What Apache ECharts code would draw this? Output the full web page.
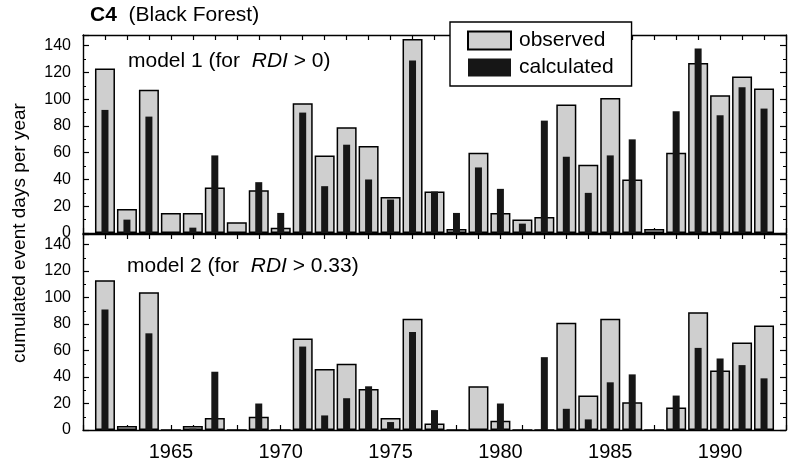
<!DOCTYPE html>
<html>
<head>
<meta charset="utf-8">
<script src="https://cdn.jsdelivr.net/npm/echarts@6/dist/echarts.min.js"></script>
<style>
    html, body { margin: 0; padding: 0; background: #fff; }
    #chart { width: 790px; height: 464px; }
</style>
</head>
<body>
<div id="chart"></div>
<script>
const years = [1962, 1963, 1964, 1965, 1966, 1967, 1968, 1969, 1970, 1971, 1972, 1973, 1974, 1975, 1976, 1977,
    1978, 1979, 1980, 1981, 1982, 1983, 1984, 1985, 1986, 1987, 1988, 1989, 1990, 1991, 1992];

// model 1 (RDI > 0)
const observed1 = [123, 18, 107, 15, 15, 34, 8, 32, 4, 97, 58, 79, 65, 27, 145, 31,
    3, 60, 15, 10, 12, 96, 51, 101, 40, 3, 60, 127, 103, 117, 108];
const calculated1 = [92, 10, 87, 0, 4, 58, 0, 38, 15, 90, 35, 66, 40, 25, 129, 31,
    15, 49, 33, 7, 84, 57, 30, 58, 70, 0, 91, 138, 88, 109, 93];

// model 2 (RDI > 0.33)
const observed2 = [113, 3, 104, 0, 3, 9, 0, 10, 0, 69, 46, 50, 31, 9, 84, 5,
    0, 33, 7, 0, 0, 81, 26, 84, 21, 0, 17, 89, 45, 66, 79];
const calculated2 = [91, 0, 73, 0, 1, 44, 0, 20, 0, 63, 11, 24, 33, 6, 74, 15,
    0, 0, 20, 0, 55, 16, 8, 36, 42, 0, 26, 62, 54, 49, 39];

const yTicks = [0, 20, 40, 60, 80, 100, 120, 140];

const font = 'Liberation Sans, Arial, sans-serif';
const chart = echarts.init(document.getElementById('chart'));

const pairs = (vals) => years.map((y, i) => [y, vals[i]]);

function xAxisOf(gridIndex, position, withLabels) {
    return {
        type: 'value', gridIndex, position,
        min: 1961, max: 1993, interval: 1,
        axisLine: { show: true, onZero: false, lineStyle: { color: '#000', width: 1.4 } },
        axisTick: { show: true, inside: true, length: 5, lineStyle: { color: '#000', width: 1.2 } },
        splitLine: { show: false },
        axisLabel: {
            show: withLabels, margin: 12, fontSize: 20, color: '#000', fontFamily: font,
            formatter: (v) => (v % 5 === 0 ? String(v) : '')
        }
    };
}

function yAxisOf(gridIndex, position, withLabels) {
    return {
        type: 'value', gridIndex, position,
        min: 0, max: 148, interval: 20,
        axisLine: { show: true, onZero: false, lineStyle: { color: '#000', width: 1.4 } },
        axisTick: { show: true, inside: true, length: 6, lineStyle: { color: '#000', width: 1.2 } },
        minorTick: { show: true, splitNumber: 2, length: 3, lineStyle: { color: '#000', width: 1 } },
        splitLine: { show: false },
        axisLabel: {
            show: withLabels, margin: 12, fontSize: 16, color: '#000', fontFamily: font,
            hideOverlap: false,
            formatter: (v) => (yTicks.indexOf(v) >= 0 ? String(v) : '')
        }
    };
}

const obsStyle = { color: '#cfcfcf', borderColor: '#000', borderWidth: 1.5 };
const calcStyle = { color: '#161616' };

const options = {
    animation: false,
    backgroundColor: '#fff',
    grid: [
        { left: 83, right: 4, top: 35, height: 198 },
        { left: 83, right: 4, top: 234, height: 196 }
    ],
    xAxis: [
        xAxisOf(0, 'bottom', false),
        xAxisOf(0, 'top', false),
        xAxisOf(1, 'bottom', true),
        xAxisOf(1, 'top', false)
    ],
    yAxis: [
        yAxisOf(0, 'left', true),
        yAxisOf(0, 'right', false),
        yAxisOf(1, 'left', true),
        yAxisOf(1, 'right', false)
    ],
    legend: {
        orient: 'vertical',
        left: 450, top: 22,
        icon: 'rect',
        data: ['observed', 'calculated'],
        backgroundColor: '#fff',
        borderColor: '#000', borderWidth: 1.4, borderRadius: 0,
        padding: [8, 18, 8, 17],
        itemWidth: 43, itemHeight: 18, itemGap: 6,
        textStyle: { fontSize: 21, color: '#000', fontFamily: font, padding: [0, 0, 0, 3] },
        z: 20
    },
    graphic: [
        {
            type: 'text', left: 90, top: 5,
            style: {
                text: '{b|C4}  (Black Forest)',
                font: '21px ' + font, fill: '#000',
                rich: { b: { fontWeight: 'bold', fontSize: 21, fontFamily: font } }
            }
        },
        {
            type: 'text', left: 128, top: 51,
            style: {
                text: 'model 1 (for  {i|RDI} > 0)',
                font: '21px ' + font, fill: '#000',
                rich: { i: { fontStyle: 'italic', fontSize: 21, fontFamily: font } }
            }
        },
        {
            type: 'text', left: 127, top: 256,
            style: {
                text: 'model 2 (for  {i|RDI} > 0.33)',
                font: '21px ' + font, fill: '#000',
                rich: { i: { fontStyle: 'italic', fontSize: 21, fontFamily: font } }
            }
        },
        {
            type: 'text', x: 20, y: 233, rotation: Math.PI / 2,
            style: {
                text: 'cumulated event days per year',
                font: '19px ' + font, fill: '#000',
                align: 'center', verticalAlign: 'middle'
            }
        }
    ],
    series: [
        {
            name: 'observed', type: 'bar', xAxisIndex: 0, yAxisIndex: 0,
            barWidth: 20, itemStyle: obsStyle, data: pairs(observed1)
        },
        {
            name: 'calculated', type: 'bar', xAxisIndex: 1, yAxisIndex: 0,
            barWidth: 7, itemStyle: calcStyle, data: pairs(calculated1), z: 3
        },
        {
            name: 'observed', type: 'bar', xAxisIndex: 2, yAxisIndex: 2,
            barWidth: 20, itemStyle: obsStyle, data: pairs(observed2)
        },
        {
            name: 'calculated', type: 'bar', xAxisIndex: 3, yAxisIndex: 2,
            barWidth: 7, itemStyle: calcStyle, data: pairs(calculated2), z: 3
        }
    ]
};

chart.setOption(options);
</script>
</body>
</html>
